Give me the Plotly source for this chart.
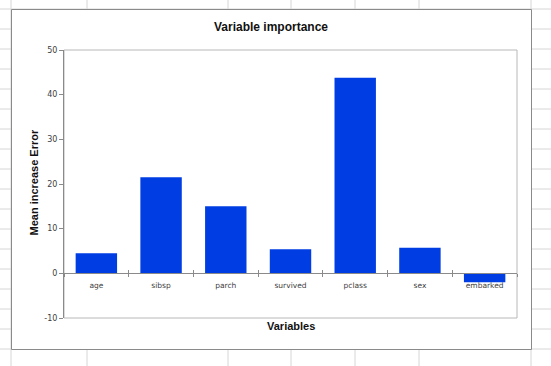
import plotly.graph_objects as go

# ---- data ----
variables = ["age", "sibsp", "parch", "survived", "pclass", "sex", "embarked"]
importance = [4.5, 21.5, 15.0, 5.4, 43.8, 5.7, -2.0]
y_ticks = [-10, 0, 10, 20, 30, 40, 50]
y_tick_labels = ["-10", "0", "10", "20", "30", "40", "50"]

# ---- geometry helpers (page pixels -> paper coords) ----
W, H = 551, 366
ML, MR, MT, MB = 64, 34, 50, 48
PW, PH = W - ML - MR, H - MT - MB


def px(x):
    return (x - ML) / PW


def py(y):
    return (H - MB - y) / PH


GRID = "#d6d6d6"
shapes = []
# spreadsheet cell grid behind the chart
for cx in [11, 87, 228, 291, 355, 419, 531]:
    shapes.append(dict(type="line", xref="paper", yref="paper", x0=px(cx), x1=px(cx),
                       y0=py(0), y1=py(H), line=dict(color=GRID, width=1), layer="below"))
for ry in range(9, H + 1, 20):
    shapes.append(dict(type="line", xref="paper", yref="paper", x0=px(0), x1=px(W),
                       y0=py(ry), y1=py(ry), line=dict(color=GRID, width=1), layer="below"))
# chart frame
shapes.append(dict(type="rect", xref="paper", yref="paper", x0=px(11.5), x1=px(531.5),
                   y0=py(349.5), y1=py(9.5), fillcolor="white",
                   line=dict(color="#8a8a8a", width=1), layer="below"))
# plot area border
shapes.append(dict(type="rect", xref="paper", yref="paper", x0=0, x1=1, y0=0, y1=1,
                   line=dict(color="#b8b8b8", width=1), layer="below"))

fig = go.Figure()
fig.add_trace(go.Bar(x=variables, y=importance, marker=dict(color="#003de2", line=dict(width=0)),
                     showlegend=False))
# invisible companion trace so the overlay axis (inner tick halves) is drawn
fig.add_trace(go.Bar(x=variables, y=importance, xaxis="x2", marker=dict(opacity=0),
                     showlegend=False, hoverinfo="skip"))

zero_pos = (0 - y_ticks[0]) / (y_ticks[-1] - y_ticks[0])

fig.update_layout(
    width=W, height=H,
    margin=dict(l=ML, r=MR, t=MT, b=MB),
    paper_bgcolor="white",
    plot_bgcolor="rgba(0,0,0,0)",
    bargap=0.36,
    shapes=shapes,
    font=dict(family="DejaVu Sans", size=8, color="#404040"),
    title=dict(text="<b>Variable importance</b>", x=271 / W, xref="container", xanchor="center",
               y=1 - 27 / H, yref="container", yanchor="middle",
               font=dict(family="Liberation Sans", size=12, color="#111111")),
    xaxis=dict(type="category", anchor="free", position=zero_pos, showline=True,
               linecolor="#8a8a8a", linewidth=1, ticks="outside", tickson="boundaries",
               ticklen=3, tickcolor="#8a8a8a", showgrid=False, zeroline=False,
               ticklabelstandoff=5,
               tickfont=dict(family="DejaVu Sans", size=7.5, color="#404040")),
    xaxis2=dict(type="category", overlaying="x", matches="x", anchor="free", position=zero_pos,
                showline=False, ticks="inside", tickson="boundaries", ticklen=3,
                tickcolor="#8a8a8a", showticklabels=False, showgrid=False, zeroline=False),
    yaxis=dict(range=[y_ticks[0], y_ticks[-1]], tickvals=y_ticks, ticktext=y_tick_labels,
               showline=True, linecolor="#8a8a8a", linewidth=1, ticks="outside", ticklen=4,
               tickcolor="#8a8a8a", showgrid=False, zeroline=False,
               tickfont=dict(family="DejaVu Sans", size=8, color="#404040")),
    annotations=[
        dict(text="<b>Variables</b>", xref="paper", yref="paper", x=px(290.5), y=py(326),
             xanchor="center", yanchor="middle", showarrow=False,
             font=dict(family="Liberation Sans", size=11, color="#111111")),
        dict(text="<b>Mean increase Error</b>", xref="paper", yref="paper", x=px(33.5), y=py(183),
             xanchor="center", yanchor="middle", textangle=-90, showarrow=False,
             font=dict(family="Liberation Sans", size=11, color="#111111")),
    ],
)

fig.write_html("out.html", config={"displayModeBar": False},
               post_script="document.body.style.margin='0px';")
